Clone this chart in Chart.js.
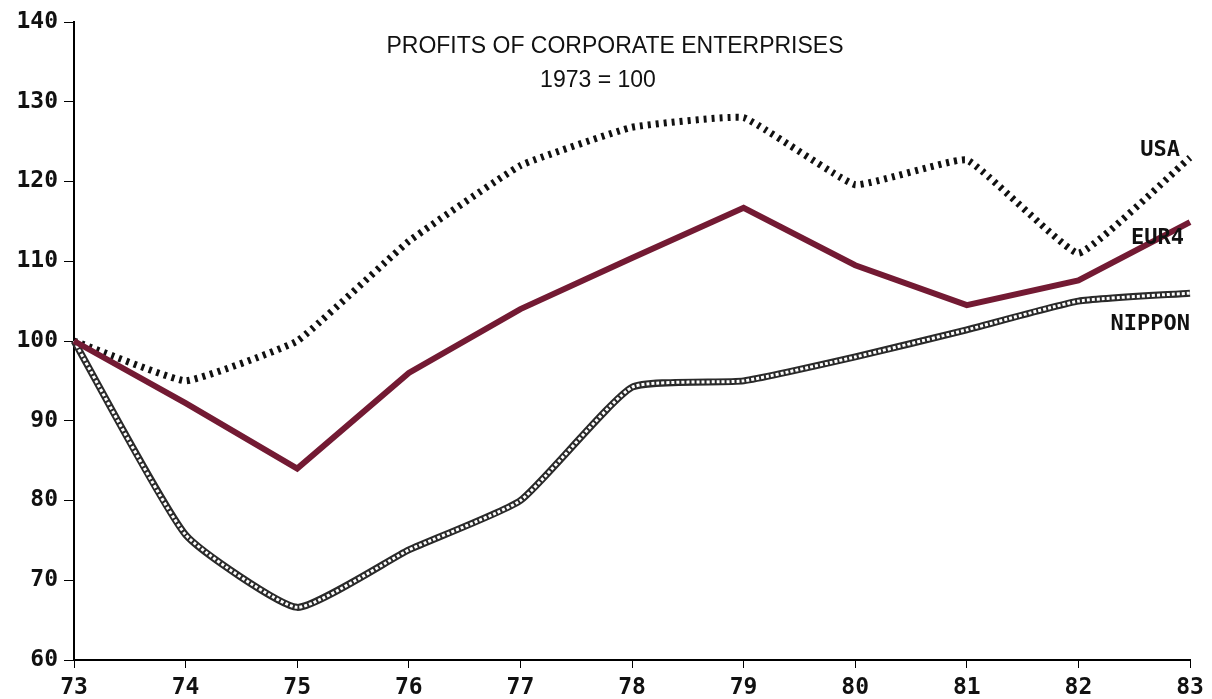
<!DOCTYPE html>
<html>
<head>
<meta charset="utf-8">
<script src="https://cdn.jsdelivr.net/npm/chart.js@4/dist/chart.umd.min.js"></script>
<style>
  html, body { margin: 0; padding: 0; background: #fff; }
  #wrap { width: 1212px; height: 699px; }
</style>
</head>
<body>
<div id="wrap"><canvas id="profitChart"></canvas></div>
<script>
const years = ['73', '74', '75', '76', '77', '78', '79', '80', '81', '82', '83'];
const usa = [100, 95, 100, 112.5, 122, 126.8, 128, 119.6, 122.7, 111, 123];
const eur4 = [100, 92.2, 84, 96, 104, 110.4, 116.7, 109.5, 104.5, 107.6, 114.9];
const nippon = [100, 75.7, 66.6, 73.8, 80, 94.2, 95, 98, 101.4, 105, 106];
const yTicks = [60, 70, 80, 90, 100, 110, 120, 130, 140];

const monoFont = { family: 'DejaVu Sans Mono', size: 23, weight: 'bold' };

// end labels + title drawn inside the plot
const overlay = {
  id: 'overlay',
  afterDatasetsDraw(chart) {
    const c = chart.ctx;
    const x = chart.scales.x, y = chart.scales.y;
    const last = years.length - 1;
    const px = x.getPixelForValue(last);
    c.save();
    c.fillStyle = '#111';
    c.font = 'bold 22px "DejaVu Sans Mono"';
    c.textAlign = 'right';
    c.textBaseline = 'middle';
    c.fillText('USA', px - 10, y.getPixelForValue(usa[last]) - 7);
    c.fillText('EUR4', px - 6, y.getPixelForValue(eur4[last]) + 16);
    c.fillText('NIPPON', px, y.getPixelForValue(nippon[last]) + 31);

    c.font = '23px "Liberation Sans"';
    c.textAlign = 'center';
    c.fillText('PROFITS OF CORPORATE ENTERPRISES', 615, 47);
    c.fillText('1973 = 100', 598, 81);
    c.restore();
  }
};

new Chart(document.getElementById('profitChart'), {
  type: 'line',
  data: {
    labels: years,
    datasets: [
      {
        label: 'USA',
        data: usa,
        borderColor: '#111',
        borderWidth: 7,
        borderDash: [3, 5],
        pointRadius: 0,
        tension: 0.1,
        order: 3
      },
      {
        label: 'NIPPON',
        data: nippon,
        borderColor: '#2a2a2a',
        borderWidth: 7,
        pointRadius: 0,
        tension: 0.15,
        order: 2
      },
      {
        // hollow centre gives the chain-of-squares look
        label: 'NIPPON inner',
        data: nippon,
        borderColor: '#fff',
        borderWidth: 3,
        borderDash: [3, 2],
        pointRadius: 0,
        tension: 0.15,
        order: 1
      },
      {
        label: 'EUR4',
        data: eur4,
        borderColor: '#731a33',
        borderWidth: 6,
        pointRadius: 0,
        tension: 0,
        order: 0
      }
    ]
  },
  options: {
    responsive: true,
    maintainAspectRatio: false,
    animation: false,
    layout: { padding: { top: 22, right: 22, bottom: 0, left: 0 } },
    scales: {
      x: {
        offset: false,
        grid: { drawOnChartArea: false, drawTicks: true, tickLength: 8, color: '#000' },
        border: { color: '#000', width: 2 },
        ticks: { color: '#111', font: monoFont, maxRotation: 0, padding: 6 },
        afterFit(s) { s.height = 39; }
      },
      y: {
        min: 60,
        max: 140,
        afterBuildTicks(s) { s.ticks = yTicks.map(v => ({ value: v })); },
        grid: { drawOnChartArea: false, drawTicks: true, tickLength: 10, color: '#000' },
        border: { color: '#000', width: 2 },
        ticks: { color: '#111', font: monoFont, padding: 6 },
        afterFit(s) { s.width = 74; }
      }
    },
    plugins: {
      legend: { display: false },
      tooltip: { enabled: false }
    }
  },
  plugins: [overlay]
});
</script>
</body>
</html>
